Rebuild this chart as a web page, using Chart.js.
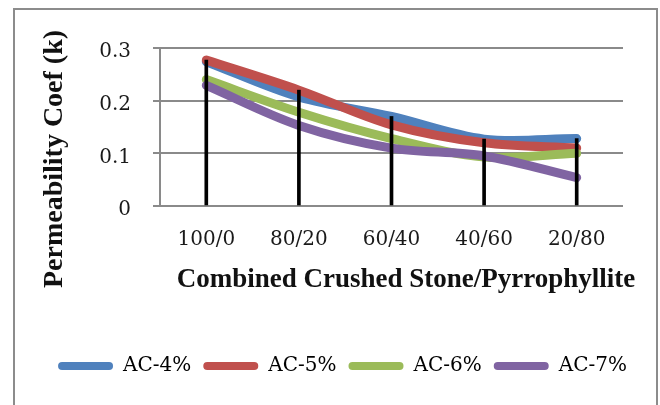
<!DOCTYPE html>
<html>
<head>
<meta charset="utf-8">
<script src="https://cdn.jsdelivr.net/npm/chart.js@4.4.0/dist/chart.umd.min.js"></script>
<style>
  body { margin: 0; background: #fff; }
  #wrap { position: relative; width: 660px; height: 405px; overflow: hidden; }
  #frame { position: absolute; left: 13px; top: 8px; width: 645px; height: 420px; border: 2px solid #8c8c8c; box-sizing: border-box; }
  canvas { position: absolute; left: 0; top: 0; }
</style>
</head>
<body>
<div id="wrap">
  <div id="frame"></div>
  <canvas id="chart" width="660" height="405"></canvas>
</div>
<script>
// values
const categories = ["100/0", "80/20", "60/40", "40/60", "20/80"];
const seriesNames = ["AC-4%", "AC-5%", "AC-6%", "AC-7%"];
const ac4 = [0.274, 0.207, 0.170, 0.127, 0.128];
const ac5 = [0.277, 0.220, 0.154, 0.120, 0.110];
const ac6 = [0.240, 0.178, 0.128, 0.093, 0.100];
const ac7 = [0.229, 0.153, 0.110, 0.095, 0.054];
const yTickLabels = ["0", "0.1", "0.2", "0.3"];
const xTitle = "Combined Crushed Stone/Pyrrophyllite";
const yTitle = "Permeability Coef (k)";

const colors = ["#4F81BD", "#C0504D", "#9BBB59", "#8064A2"];
const gridColor = "#8a8a8a";

Chart.defaults.font.family = "'DejaVu Serif', serif";
Chart.defaults.color = "#1a1a1a";

// drop lines go from the highest series down to the axis
const dropLines = categories.map((c, i) => [0, Math.max(ac4[i], ac5[i], ac6[i], ac7[i])]);

function lineSet(label, data, color, order) {
    return {
        label: label,
        data: data,
        borderColor: color,
        backgroundColor: color,
        borderWidth: 9,
        borderCapStyle: "round",
        borderJoinStyle: "round",
        pointRadius: 0,
        tension: 0.33,
        fill: false,
        order: order
    };
}

// axis titles drawn as plain canvas text
const axisTitles = {
    id: "axisTitles",
    afterDraw(chart) {
        const ctx = chart.ctx;
        ctx.save();
        ctx.fillStyle = "#111";
        ctx.textAlign = "center";
        ctx.textBaseline = "alphabetic";
        ctx.font = "bold 27px 'Liberation Serif'";
        ctx.fillText(xTitle, 406, 287);
        ctx.font = "bold 28px 'Liberation Serif'";
        ctx.translate(62, 159);
        ctx.rotate(-Math.PI / 2);
        ctx.fillText(yTitle, 0, 0);
        ctx.restore();
    }
};

new Chart(document.getElementById("chart"), {
    type: "line",
    data: {
        labels: categories,
        datasets: [
            lineSet(seriesNames[0], ac4, colors[0], 4),
            lineSet(seriesNames[1], ac5, colors[1], 3),
            lineSet(seriesNames[2], ac6, colors[2], 2),
            lineSet(seriesNames[3], ac7, colors[3], 1),
            {
                type: "bar",
                label: "drop",
                data: dropLines,
                backgroundColor: "#000",
                barThickness: 3,
                order: 0
            }
        ]
    },
    options: {
        responsive: false,
        animation: false,
        layout: { padding: { left: 40, right: 15, top: 48, bottom: 19 } },
        scales: {
            x: {
                offset: true,
                grid: { display: false, drawTicks: false },
                border: { display: false },
                ticks: { font: { size: 20 }, padding: 22, maxRotation: 0 },
                afterFit: s => { s.height = 138; }
            },
            y: {
                min: 0,
                max: 0.3,
                ticks: {
                    stepSize: 0.1,
                    font: { size: 20 },
                    padding: 22,
                    labelOffset: 4,
                    callback: (v, i) => yTickLabels[i]
                },
                grid: { color: gridColor, lineWidth: 2, tickLength: 7, tickColor: gridColor },
                border: { display: true, color: gridColor, width: 2 },
                afterFit: s => { s.width = 120; }
            },
            yr: {
                type: "linear",
                axis: "y",
                position: "right",
                grid: { display: false },
                border: { display: false },
                ticks: { display: false },
                afterFit: s => { s.width = 22; }
            }
        },
        plugins: {
            tooltip: { enabled: false },
            legend: {
                position: "bottom",
                labels: {
                    font: { size: 20 },
                    boxWidth: 55,
                    boxHeight: 8,
                    padding: 12,
                    generateLabels: chart => chart.data.datasets.slice(0, 4).map((d, i) => ({
                        text: d.label,
                        fillStyle: d.borderColor,
                        strokeStyle: d.borderColor,
                        lineWidth: 0,
                        borderRadius: 4,
                        hidden: false,
                        datasetIndex: i
                    }))
                }
            }
        }
    },
    plugins: [axisTitles]
});
</script>
</body>
</html>
